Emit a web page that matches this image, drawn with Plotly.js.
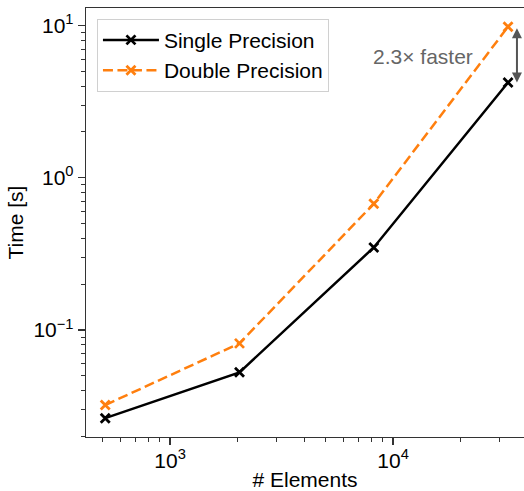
<!DOCTYPE html>
<html>
<head>
<meta charset="utf-8">
<script src="https://cdn.plot.ly/plotly-3.0.1.min.js"></script>
<style>html,body{margin:0;padding:0;background:#fff;overflow:hidden}</style>
</head>
<body>
<div id="chart" style="width:524px;height:491px"></div>
<script>
const elements = [512, 2048, 8192, 32768];
const singleTime = [0.0264, 0.0528, 0.349, 4.22];
const doubleTime = [0.0322, 0.0818, 0.675, 9.82];
const seriesNames = ['Single Precision', 'Double Precision'];
const xTickVals = [1000, 10000];
const xTickText = ['10<sup>3</sup>', '10<sup>4</sup>'];
const yTickVals = [0.1, 1, 10];
const yTickText = ['10<sup>\u22121</sup>', '10<sup>0</sup>', '10<sup>1</sup>'];
const speedupLabel = '2.3\u00d7 faster';

function minorVals(lo, hi) {
  const out = [];
  for (let d = lo; d <= hi; d++) for (let k = 2; k <= 9; k++) out.push(k * Math.pow(10, d));
  return out;
}

const font = "'Liberation Sans', Arial, Helvetica, sans-serif";

const traces = [
  {
    x: elements, y: singleTime, name: seriesNames[0], type: 'scatter', mode: 'lines+markers',
    line: {color: '#000000', width: 2.5},
    marker: {symbol: 'x-thin', size: 9, line: {color: '#000000', width: 2.8}}
  },
  {
    x: elements, y: doubleTime, name: seriesNames[1], type: 'scatter', mode: 'lines+markers',
    line: {color: '#ff7f0e', width: 2.5, dash: '10px,4.5px'},
    marker: {symbol: 'x-thin', size: 9, line: {color: '#ff7f0e', width: 2.8}}
  }
];

const lastX = Math.log10(elements[elements.length - 1]) + 0.04;

const layout = {
  width: 524, height: 491,
  margin: {l: 86, r: 0, t: 8, b: 54},
  paper_bgcolor: '#ffffff', plot_bgcolor: '#ffffff',
  font: {family: font, size: 21, color: '#000'},
  showlegend: true,
  legend: {
    x: 0.025, y: 0.975, xanchor: 'left', yanchor: 'top',
    bgcolor: 'rgba(255,255,255,0.8)', bordercolor: '#d0d0d0', borderwidth: 1,
    font: {family: font, size: 21, color: '#000'},
    itemwidth: 56, tracegroupgap: 0
  },
  xaxis: {
    type: 'log', range: [2.623, 4.587],
    showgrid: false, zeroline: false,
    showline: true, linecolor: '#333', linewidth: 1.3, mirror: true,
    ticks: 'outside', ticklen: 7, tickwidth: 1.3, tickcolor: '#333',
    tickmode: 'array', tickvals: xTickVals, ticktext: xTickText,
    ticklabelstandoff: -3,
    tickfont: {family: font, size: 21, color: '#000'},
    minor: {ticks: 'outside', ticklen: 4, tickwidth: 1, tickcolor: '#333', tickmode: 'array', tickvals: minorVals(2, 4), showgrid: false},
    title: {text: '# Elements', font: {family: font, size: 21, color: '#000'}, standoff: 8}
  },
  yaxis: {
    type: 'log', range: [-1.702, 1.115],
    showgrid: false, zeroline: false,
    showline: true, linecolor: '#333', linewidth: 1.3, mirror: false,
    ticks: 'outside', ticklen: 7, tickwidth: 1.3, tickcolor: '#333',
    tickmode: 'array', tickvals: yTickVals, ticktext: yTickText,
    tickfont: {family: font, size: 21, color: '#000'},
    minor: {ticks: 'outside', ticklen: 4, tickwidth: 1, tickcolor: '#333', tickmode: 'array', tickvals: minorVals(-2, 1), showgrid: false},
    title: {text: 'Time [s]', font: {family: font, size: 21, color: '#000'}, standoff: 4}
  },
  annotations: [
    {
      x: lastX, y: Math.log10(singleTime[3]), xref: 'x', yref: 'y',
      ax: lastX, ay: Math.log10(doubleTime[3]), axref: 'x', ayref: 'y',
      showarrow: true, arrowside: 'end+start', arrowhead: 2, arrowsize: 1, arrowwidth: 2,
      arrowcolor: '#555', text: '', standoff: 0, startstandoff: 0
    },
    {
      x: 0.769, y: 0.886, xref: 'paper', yref: 'paper', xanchor: 'center', yanchor: 'middle',
      text: speedupLabel, showarrow: false,
      font: {family: font, size: 21, color: '#666'}
    }
  ]
};

Plotly.newPlot('chart', traces, layout, {displayModeBar: false, staticPlot: true});
</script>
</body>
</html>
